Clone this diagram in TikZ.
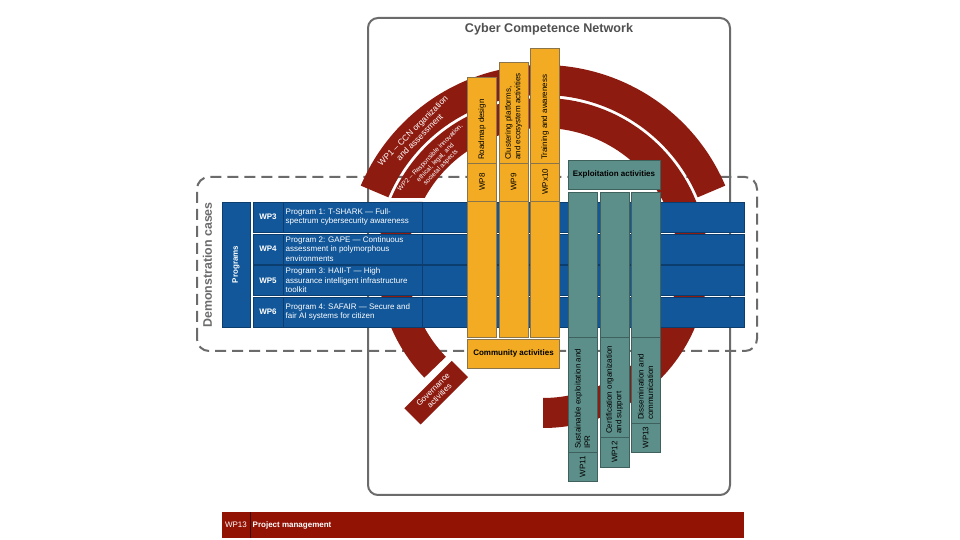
\documentclass[tikz,border=0pt]{standalone}
\usepackage{fontspec}
\setmainfont{Liberation Sans}
\definecolor{ringred}{HTML}{8E1B10}
\definecolor{barred}{HTML}{921204}
\definecolor{pblue}{HTML}{11579A}
\definecolor{pblueb}{HTML}{0B3E6E}
\definecolor{org}{HTML}{F2AB22}
\definecolor{orgb}{HTML}{8A744A}
\definecolor{tealf}{HTML}{5D8F8A}
\definecolor{tealb}{HTML}{3E615E}
\definecolor{framec}{HTML}{6B6B6B}
\definecolor{ttl}{HTML}{505050}
\tikzset{
  ob/.style={draw=orgb, fill=org, line width=0.7pt},
  tb/.style={draw=tealb, fill=tealf, line width=0.7pt},
  bb/.style={draw=pblueb, fill=pblue, line width=0.6pt},
  ringfill/.style={fill=ringred},
  small/.style={font=\fontsize{8}{9.5}\selectfont, inner sep=0pt},
  ptext/.style={small, text=white, align=left, anchor=west},
  wpl/.style={small, text=white, font=\fontsize{8}{9.5}\selectfont\bfseries},
  otext/.style={small, text=black, align=left, rotate=90, anchor=west},
  owp/.style={small, text=black, rotate=90},
  arct/.style={text=white, align=center, inner sep=0pt},
  govbox/.style={fill=ringred, text=white, align=center, minimum width=67pt, minimum height=23pt, inner sep=1pt, font=\fontsize{8}{9}\selectfont},
}
\begin{document}
\begin{tikzpicture}[x=1pt,y=1pt]
\fill[white] (0,0) rectangle (960,540);
\useasboundingbox (0,0) rectangle (960,540);
\coordinate (C) at (543,277);

% frames
\draw[framec, line width=2pt, rounded corners=10pt] (368,45) rectangle (730,522);
\node[text=ttl, font=\fontsize{12.6}{14}\selectfont\bfseries] (ccn) at (549,511) {Cyber Competence Network};
\draw[framec, line width=2pt, dash pattern=on 11pt off 6pt, rounded corners=12pt] (197,189) rectangle (757,363);
\node[rotate=90, text=framec, font=\fontsize{12.4}{14}\selectfont\bfseries] (demo) at (207.5,275) {Demonstration cases};

% rings
\fill[ringfill] ([shift={(23:198)}]C) arc[start angle=23, end angle=157, radius=198]
   -- ([shift={(157:168)}]C) arc[start angle=157, end angle=23, radius=168] -- cycle;
\fill[ringfill] ([shift={(-90:165)}]C) arc[start angle=-90, end angle=156.8, radius=165]
   -- ([shift={(151.2:135)}]C) arc[start angle=151.2, end angle=-90, radius=135] -- cycle;
\fill[ringfill] ([shift={(158.3:165)}]C) arc[start angle=158.3, end angle=224, radius=165]
   -- ([shift={(224:135)}]C) arc[start angle=224, end angle=153.1, radius=135] -- cycle;
\node[govbox, rotate=45] (gov) at ([shift={(230.5:168)}]C) {Governance\\activities};
\node[arct, rotate=45, font=\fontsize{8.5}{9.5}\selectfont] (wp1t) at ([shift={(134.5:181)}]C) {WP1 -- CCN organization\\and assessment};
\node[arct, rotate=46, font=\fontsize{6.5}{7.3}\selectfont] (wp2t) at ([shift={(137:147)}]C) {WP2 -- Responsible innovation,\\ethical, legal, and\\societal aspects};

% programs
\draw[bb] (222,213) rectangle (250,338);
\node[wpl, rotate=90] (prog) at (236,275.5) {Programs};
\foreach \lo/\hi in {308/338, 276/306, 244.5/274.5, 213/243}{
  \draw[bb] (253,\lo) rectangle (283,\hi);
  \draw[bb] (283,\lo) rectangle (422,\hi);
  \draw[bb] (422,\lo) rectangle (744,\hi);
}
\node[wpl] (wp3) at (268,323) {WP3};
\node[wpl] (wp4) at (268,291) {WP4};
\node[wpl] (wp5) at (268,259.5) {WP5};
\node[wpl] (wp6) at (268,228) {WP6};
\node[ptext] (p1) at (285.5,323) {Program 1: T-SHARK — Full-\\spectrum cybersecurity awareness};
\node[ptext] (p2) at (285.5,291) {Program 2: GAPE — Continuous\\assessment in polymorphous\\environments};
\node[ptext] (p3) at (285.5,259.5) {Program 3: HAII-T — High\\assurance intelligent infrastructure\\toolkit};
\node[ptext] (p4) at (285.5,228) {Program 4: SAFAIR — Secure and\\fair AI systems for citizen};

% orange bars
\draw[ob] (467.5,377) rectangle (496.5,463);
\draw[ob] (467.5,339) rectangle (496.5,377);
\draw[ob] (467.5,203) rectangle (496.5,339);
\draw[ob] (499,377) rectangle (528,478);
\draw[ob] (499,339) rectangle (528,377);
\draw[ob] (499,203) rectangle (528,339);
\draw[ob] (530.5,377) rectangle (559.5,492);
\draw[ob] (530.5,339) rectangle (559.5,377);
\draw[ob] (530.5,203) rectangle (559.5,339);
\node[otext] (t8) at (482,380) {Roadmap design};
\node[otext] (t9) at (513.5,380) {Clustering platforms,\\and ecosystem activities};
\node[otext] (t10) at (545,380) {Training and awareness};
\node[owp] (w8) at (482,358) {WP8};
\node[owp] (w9) at (513.5,358) {WP9};
\node[owp] (w10) at (545,358) {WPx10};
\draw[ob] (467.5,172) rectangle (559.5,201);
\node[small, font=\fontsize{8}{9.5}\selectfont\bfseries] (comm) at (513.5,186.5) {Community activities};

% teal bars
\draw[tb] (568,351) rectangle (660,380);
\node[small, font=\fontsize{8}{9.5}\selectfont\bfseries] (expl) at (614,365.5) {Exploitation activities};
\draw[tb] (568,203) rectangle (597,348);
\draw[tb] (568,88) rectangle (597,203);
\draw[tb] (568,59) rectangle (597,88);
\draw[tb] (600,203) rectangle (629,348);
\draw[tb] (600,103) rectangle (629,203);
\draw[tb] (600,73) rectangle (629,103);
\draw[tb] (631,203) rectangle (660,348);
\draw[tb] (631,117) rectangle (660,203);
\draw[tb] (631,88) rectangle (660,117);
\node[otext] (t11) at (582.5,91) {Sustainable exploitation and\\IPR};
\node[otext] (t12) at (614.5,106) {Certification organization\\and support};
\node[otext] (t13) at (645.5,120) {Dissemination and\\communication};
\node[owp] (w11) at (582.5,73.5) {WP11};
\node[owp] (w12) at (614.5,88) {WP12};
\node[owp] (w13) at (645.5,102.5) {WP13};

% bottom bar
\fill[barred] (222,2) rectangle (744,28);
\draw[black!60!barred, line width=0.7pt] (250,2) -- (250,28);
\node[small, text=white] (pmwp) at (236,15) {WP13};
\node[small, text=white, anchor=west, font=\fontsize{8}{9.5}\selectfont\bfseries] (pm) at (252.5,15) {Project management};
\end{tikzpicture}
\end{document}
